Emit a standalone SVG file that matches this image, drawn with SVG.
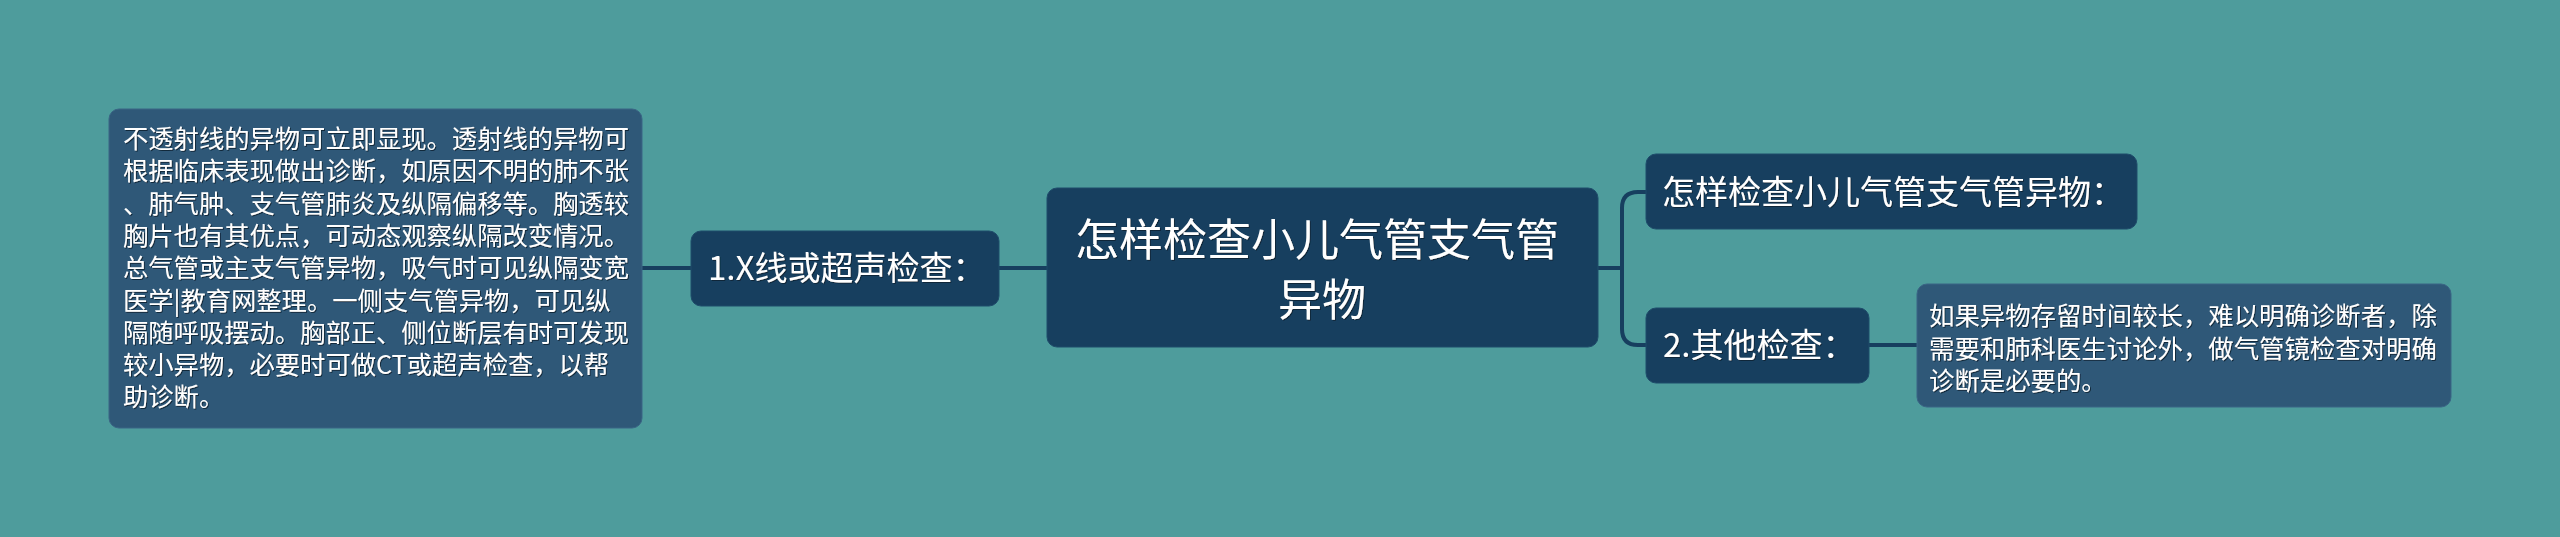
<svg xmlns="http://www.w3.org/2000/svg" width="2560" height="537" viewBox="0 0 2560 537">
<defs>
<filter id="ts" x="-5%" y="-20%" width="110%" height="140%">
<feDropShadow dx="1" dy="1" stdDeviation="0.6" flood-color="#0b2236" flood-opacity="0.9"/>
</filter>
<style>
.bg{fill:#4e9c9c}
.dark{fill:#173f5f;stroke:#1f4d6b;stroke-width:1}
.light{fill:#2f5878;stroke:#3a6585;stroke-width:1}
.t{font-family:"Noto Sans CJK SC","Noto Sans",sans-serif;fill:#ffffff;filter:url(#ts)}
.conn{fill:none;stroke:#173f5f;stroke-width:4;stroke-linecap:round;stroke-linejoin:round}
</style>
</defs>
<rect class="bg" x="0" y="0" width="2560" height="537"/>
<g id="connectors">
<path class="conn" d="M642 268 H691"/>
<path class="conn" d="M999 268 H1047"/>
<path class="conn" d="M1598 268 H1622"/>
<path class="conn" d="M1646 192 H1638 Q1622 192 1622 208 V329 Q1622 345 1638 345 H1646"/>
<path class="conn" d="M1869 345 H1917"/>
</g>
<g id="node-detail-left">
<rect class="light" x="109" y="109" width="533" height="319" rx="10"/>
<text class="t" font-size="25.3" x="123">
<tspan x="123" y="148">不透射线的异物可立即显现。透射线的异物可</tspan>
<tspan x="123" y="180.3">根据临床表现做出诊断，如原因不明的肺不张</tspan>
<tspan x="123" y="212.6">、肺气肿、支气管肺炎及纵隔偏移等。胸透较</tspan>
<tspan x="123" y="244.9">胸片也有其优点，可动态观察纵隔改变情况。</tspan>
<tspan x="123" y="277.2">总气管或主支气管异物，吸气时可见纵隔变宽</tspan>
<tspan x="123" y="309.5">医学|教育网整理。一侧支气管异物，可见纵</tspan>
<tspan x="123" y="341.8">隔随呼吸摆动。胸部正、侧位断层有时可发现</tspan>
<tspan x="123" y="374.1">较小异物，必要时可做CT或超声检查，以帮</tspan>
<tspan x="123" y="406.4">助诊断。</tspan>
</text>
</g>
<g id="node-xray">
<rect class="dark" x="691" y="231" width="308" height="75" rx="10"/>
<text class="t" font-size="33" x="708" y="280">1.X线或超声检查：</text>
</g>
<g id="node-center">
<rect class="dark" x="1047" y="188" width="551" height="159" rx="10"/>
<text class="t" font-size="44" text-anchor="middle">
<tspan x="1322" y="256">怎样检查小儿气管支气管</tspan>
<tspan x="1322" y="316">异物</tspan>
</text>
</g>
<g id="node-howto">
<rect class="dark" x="1646" y="154" width="491" height="75" rx="10"/>
<text class="t" font-size="33" x="1662" y="204">怎样检查小儿气管支气管异物：</text>
</g>
<g id="node-other">
<rect class="dark" x="1646" y="308" width="223" height="75" rx="10"/>
<text class="t" font-size="33" x="1663" y="357">2.其他检查：</text>
</g>
<g id="node-detail-right">
<rect class="light" x="1917" y="284" width="534" height="123" rx="10"/>
<text class="t" font-size="25.4">
<tspan x="1929" y="325">如果异物存留时间较长，难以明确诊断者，除</tspan>
<tspan x="1929" y="357.5">需要和肺科医生讨论外，做气管镜检查对明确</tspan>
<tspan x="1929" y="390">诊断是必要的。</tspan>
</text>
</g>
</svg>
